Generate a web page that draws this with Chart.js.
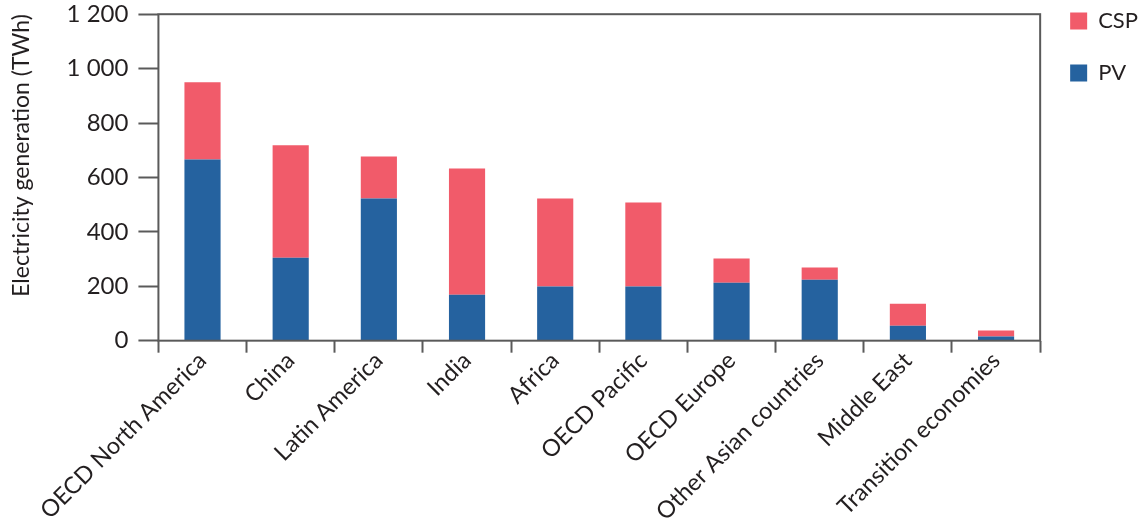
<!DOCTYPE html>
<html>
<head>
<meta charset="utf-8">
<script src="https://cdn.jsdelivr.net/npm/chart.js@4"></script>
<style>
  html, body { margin: 0; padding: 0; background: #fff; }
  #wrap { width: 1144px; height: 522px; }
</style>
</head>
<body>
<div id="wrap"><canvas id="barChart"></canvas></div>
<script>
const regions = ["OECD North America", "China", "Latin America", "India", "Africa",
  "OECD Pacific", "OECD Europe", "Other Asian countries", "Middle East", "Transition economies"];
const pvValues = [666, 305, 523, 169, 199, 199, 213, 224, 55, 15];
const cspValues = [284, 413, 154, 464, 324, 309, 89, 45, 81, 22];
const yTicks = [0, 200, 400, 600, 800, 1000, 1200];

const lineColor = "#5a5a5a";
const textColor = "#231f20";
const fontFamily = "Lato, 'Noto Sans', sans-serif";

// frame round the plot area (top and right sides too)
const framePlugin = {
  id: "frame",
  afterDraw(chart) {
    const a = chart.chartArea;
    const ctx = chart.ctx;
    ctx.save();
    ctx.strokeStyle = lineColor;
    ctx.lineWidth = 2;
    ctx.strokeRect(a.left, a.top, a.right - a.left, a.bottom - a.top);
    ctx.restore();
  }
};

function fmt(v) {
  return String(v).replace(/\B(?=(\d{3})+(?!\d))/g, " ");
}

function createBarChart() {
  const ctx = document.getElementById("barChart").getContext("2d");
  new Chart(ctx, {
    type: "bar",
    data: {
      labels: regions,
      datasets: [
        { label: "PV", data: pvValues, backgroundColor: "#25629f" },
        { label: "CSP", data: cspValues, backgroundColor: "#f15b6a" }
      ]
    },
    options: {
      responsive: true,
      maintainAspectRatio: false,
      animation: false,
      layout: { padding: { top: -20, right: -4, left: 8, bottom: 2 } },
      datasets: { bar: { barPercentage: 0.41, categoryPercentage: 1.0 } },
      scales: {
        x: {
          stacked: true,
          border: { display: false },
          grid: { display: true, drawOnChartArea: false, tickLength: 12, tickColor: lineColor, tickWidth: 2, offset: true },
          ticks: {
            maxRotation: 45, minRotation: 45, color: textColor, padding: -6,
            font: { family: fontFamily, size: 23.5 }
          }
        },
        y: {
          stacked: true,
          min: 0, max: 1200,
          border: { display: false },
          afterBuildTicks(axis) { axis.ticks = yTicks.map(v => ({ value: v })); },
          grid: { drawOnChartArea: false, tickLength: 20, tickColor: lineColor, tickWidth: 2 },
          ticks: {
            color: textColor, padding: 10,
            font: { family: fontFamily, size: 24, lineHeight: 0.35 },
            callback: v => fmt(v)
          },
          title: {
            display: true, align: "end", text: "Electricity generation (TWh)", color: textColor,
            font: { family: fontFamily, size: 23 }, padding: { top: 0, bottom: 21 }
          }
        }
      },
      plugins: {
        legend: {
          display: true, position: "right", align: "start", reverse: true,
          labels: {
            boxWidth: 17, boxHeight: 17, padding: 30, color: textColor,
            font: { family: fontFamily, size: 22 }
          }
        },
        tooltip: { enabled: false }
      }
    },
    plugins: [framePlugin]
  });
}

window.addEventListener("load", createBarChart);
</script>
</body>
</html>
